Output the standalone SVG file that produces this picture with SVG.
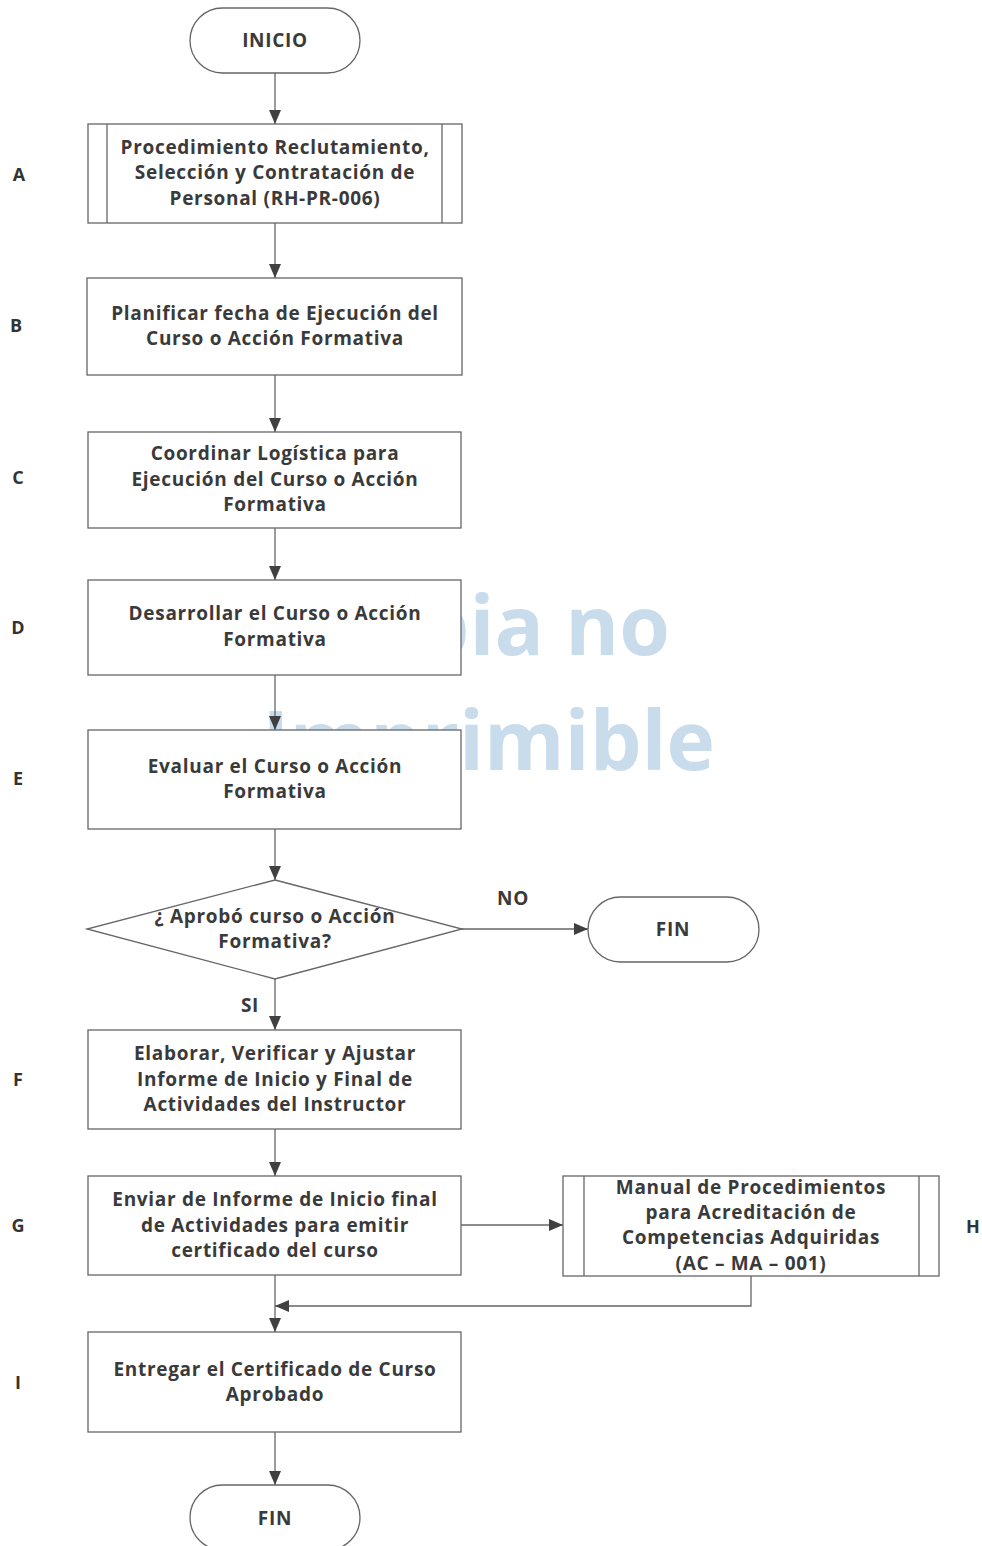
<svg xmlns="http://www.w3.org/2000/svg" width="982" height="1546" viewBox="0 0 982 1546">
<style>
.box{fill:#fff;stroke:#666;stroke-width:1.3}
.ln{fill:none;stroke:#666;stroke-width:1.3}
.t{font-family:"Open Sans","Liberation Sans",sans-serif;font-weight:bold;font-size:19px;letter-spacing:0.7px;fill:#3a3a3a;text-anchor:middle;dominant-baseline:central}
.lbl{font-family:"Open Sans","Liberation Sans",sans-serif;font-weight:bold;font-size:18px;fill:#333;text-anchor:middle;dominant-baseline:central}
.wm{font-family:"Open Sans","Liberation Sans",sans-serif;font-weight:bold;font-size:82px;fill:#c9dcec;text-anchor:end}
</style>
<defs>
<marker id="ah" markerUnits="userSpaceOnUse" markerWidth="14" markerHeight="14" viewBox="0 0 14 14" refX="14" refY="7" orient="auto">
<path d="M0,1 L14,7 L0,13 Z" fill="#404040"/>
</marker>
</defs>
<g id="watermark">
<text class="wm" x="670" y="655">Copia no</text>
<text class="wm" x="715" y="770">Imprimible</text>
</g>
<g id="connectors">
<line class="ln" x1="275" y1="73" x2="275" y2="124" marker-end="url(#ah)"/>
<line class="ln" x1="275" y1="223" x2="275" y2="278" marker-end="url(#ah)"/>
<line class="ln" x1="275" y1="375" x2="275" y2="432" marker-end="url(#ah)"/>
<line class="ln" x1="275" y1="528" x2="275" y2="580" marker-end="url(#ah)"/>
<line class="ln" x1="275" y1="675" x2="275" y2="730" marker-end="url(#ah)"/>
<line class="ln" x1="275" y1="829" x2="275" y2="880" marker-end="url(#ah)"/>
<line class="ln" x1="462" y1="929" x2="588" y2="929" marker-end="url(#ah)"/>
<line class="ln" x1="275" y1="979" x2="275" y2="1030" marker-end="url(#ah)"/>
<line class="ln" x1="275" y1="1129" x2="275" y2="1176" marker-end="url(#ah)"/>
<line class="ln" x1="461" y1="1225" x2="563" y2="1225" marker-end="url(#ah)"/>
<line class="ln" x1="275" y1="1275" x2="275" y2="1332" marker-end="url(#ah)"/>
<polyline class="ln" points="751,1276 751,1306 275,1306" marker-end="url(#ah)"/>
<line class="ln" x1="275" y1="1432" x2="275" y2="1485" marker-end="url(#ah)"/>
<text class="t" x="513" y="898">NO</text>
<text class="t" x="250" y="1005">SI</text>
</g>
<g id="inicio">
<rect class="box" x="190" y="8" width="170" height="65" rx="32.5"/>
<text class="t" x="275" y="40">INICIO</text>
</g>
<g id="A">
<rect class="box" x="88" y="124" width="374" height="99"/>
<line class="ln" x1="107" y1="124" x2="107" y2="223"/>
<line class="ln" x1="442" y1="124" x2="442" y2="223"/>
<text class="t" x="275" y="147">Procedimiento Reclutamiento,</text>
<text class="t" x="275" y="172">Selección y Contratación de</text>
<text class="t" x="275" y="198">Personal (RH-PR-006)</text>
<text class="lbl" x="19" y="174">A</text>
</g>
<g id="B">
<rect class="box" x="87" y="278" width="375" height="97"/>
<text class="t" x="275" y="313">Planificar fecha de Ejecución del</text>
<text class="t" x="275" y="338">Curso o Acción Formativa</text>
<text class="lbl" x="16" y="325">B</text>
</g>
<g id="C">
<rect class="box" x="88" y="432" width="373" height="96"/>
<text class="t" x="275" y="453">Coordinar Logística para</text>
<text class="t" x="275" y="479">Ejecución del Curso o Acción</text>
<text class="t" x="275" y="504">Formativa</text>
<text class="lbl" x="18" y="477">C</text>
</g>
<g id="D">
<rect class="box" x="88" y="580" width="373" height="95"/>
<text class="t" x="275" y="613">Desarrollar el Curso o Acción</text>
<text class="t" x="275" y="639">Formativa</text>
<text class="lbl" x="18" y="627">D</text>
</g>
<g id="E">
<rect class="box" x="88" y="730" width="373" height="99"/>
<text class="t" x="275" y="766">Evaluar el Curso o Acción</text>
<text class="t" x="275" y="791">Formativa</text>
<text class="lbl" x="18" y="778">E</text>
</g>
<g id="decision">
<polygon class="box" points="275,880 462,929 275,979 87,929"/>
<text class="t" x="275" y="916">¿ Aprobó curso o Acción</text>
<text class="t" x="275" y="941">Formativa?</text>
</g>
<g id="fin1">
<rect class="box" x="588" y="897" width="171" height="65" rx="32.5"/>
<text class="t" x="673" y="929">FIN</text>
</g>
<g id="F">
<rect class="box" x="88" y="1030" width="373" height="99"/>
<text class="t" x="275" y="1053">Elaborar, Verificar y Ajustar</text>
<text class="t" x="275" y="1079">Informe de Inicio y Final de</text>
<text class="t" x="275" y="1104">Actividades del Instructor</text>
<text class="lbl" x="18" y="1079">F</text>
</g>
<g id="G">
<rect class="box" x="88" y="1176" width="373" height="99"/>
<text class="t" x="275" y="1199">Enviar de Informe de Inicio final</text>
<text class="t" x="275" y="1225">de Actividades para emitir</text>
<text class="t" x="275" y="1250">certificado del curso</text>
<text class="lbl" x="18" y="1225">G</text>
</g>
<g id="H">
<rect class="box" x="563" y="1176" width="376" height="100"/>
<line class="ln" x1="584" y1="1176" x2="584" y2="1276"/>
<line class="ln" x1="919" y1="1176" x2="919" y2="1276"/>
<text class="t" x="751" y="1187">Manual de Procedimientos</text>
<text class="t" x="751" y="1212">para Acreditación de</text>
<text class="t" x="751" y="1237">Competencias Adquiridas</text>
<text class="t" x="751" y="1263">(AC – MA – 001)</text>
<text class="lbl" x="973" y="1226">H</text>
</g>
<g id="I">
<rect class="box" x="88" y="1332" width="373" height="100"/>
<text class="t" x="275" y="1369">Entregar el Certificado de Curso</text>
<text class="t" x="275" y="1394">Aprobado</text>
<text class="lbl" x="18" y="1382">I</text>
</g>
<g id="fin2">
<rect class="box" x="190" y="1485" width="170" height="65" rx="32.5"/>
<text class="t" x="275" y="1518">FIN</text>
</g>
</svg>
